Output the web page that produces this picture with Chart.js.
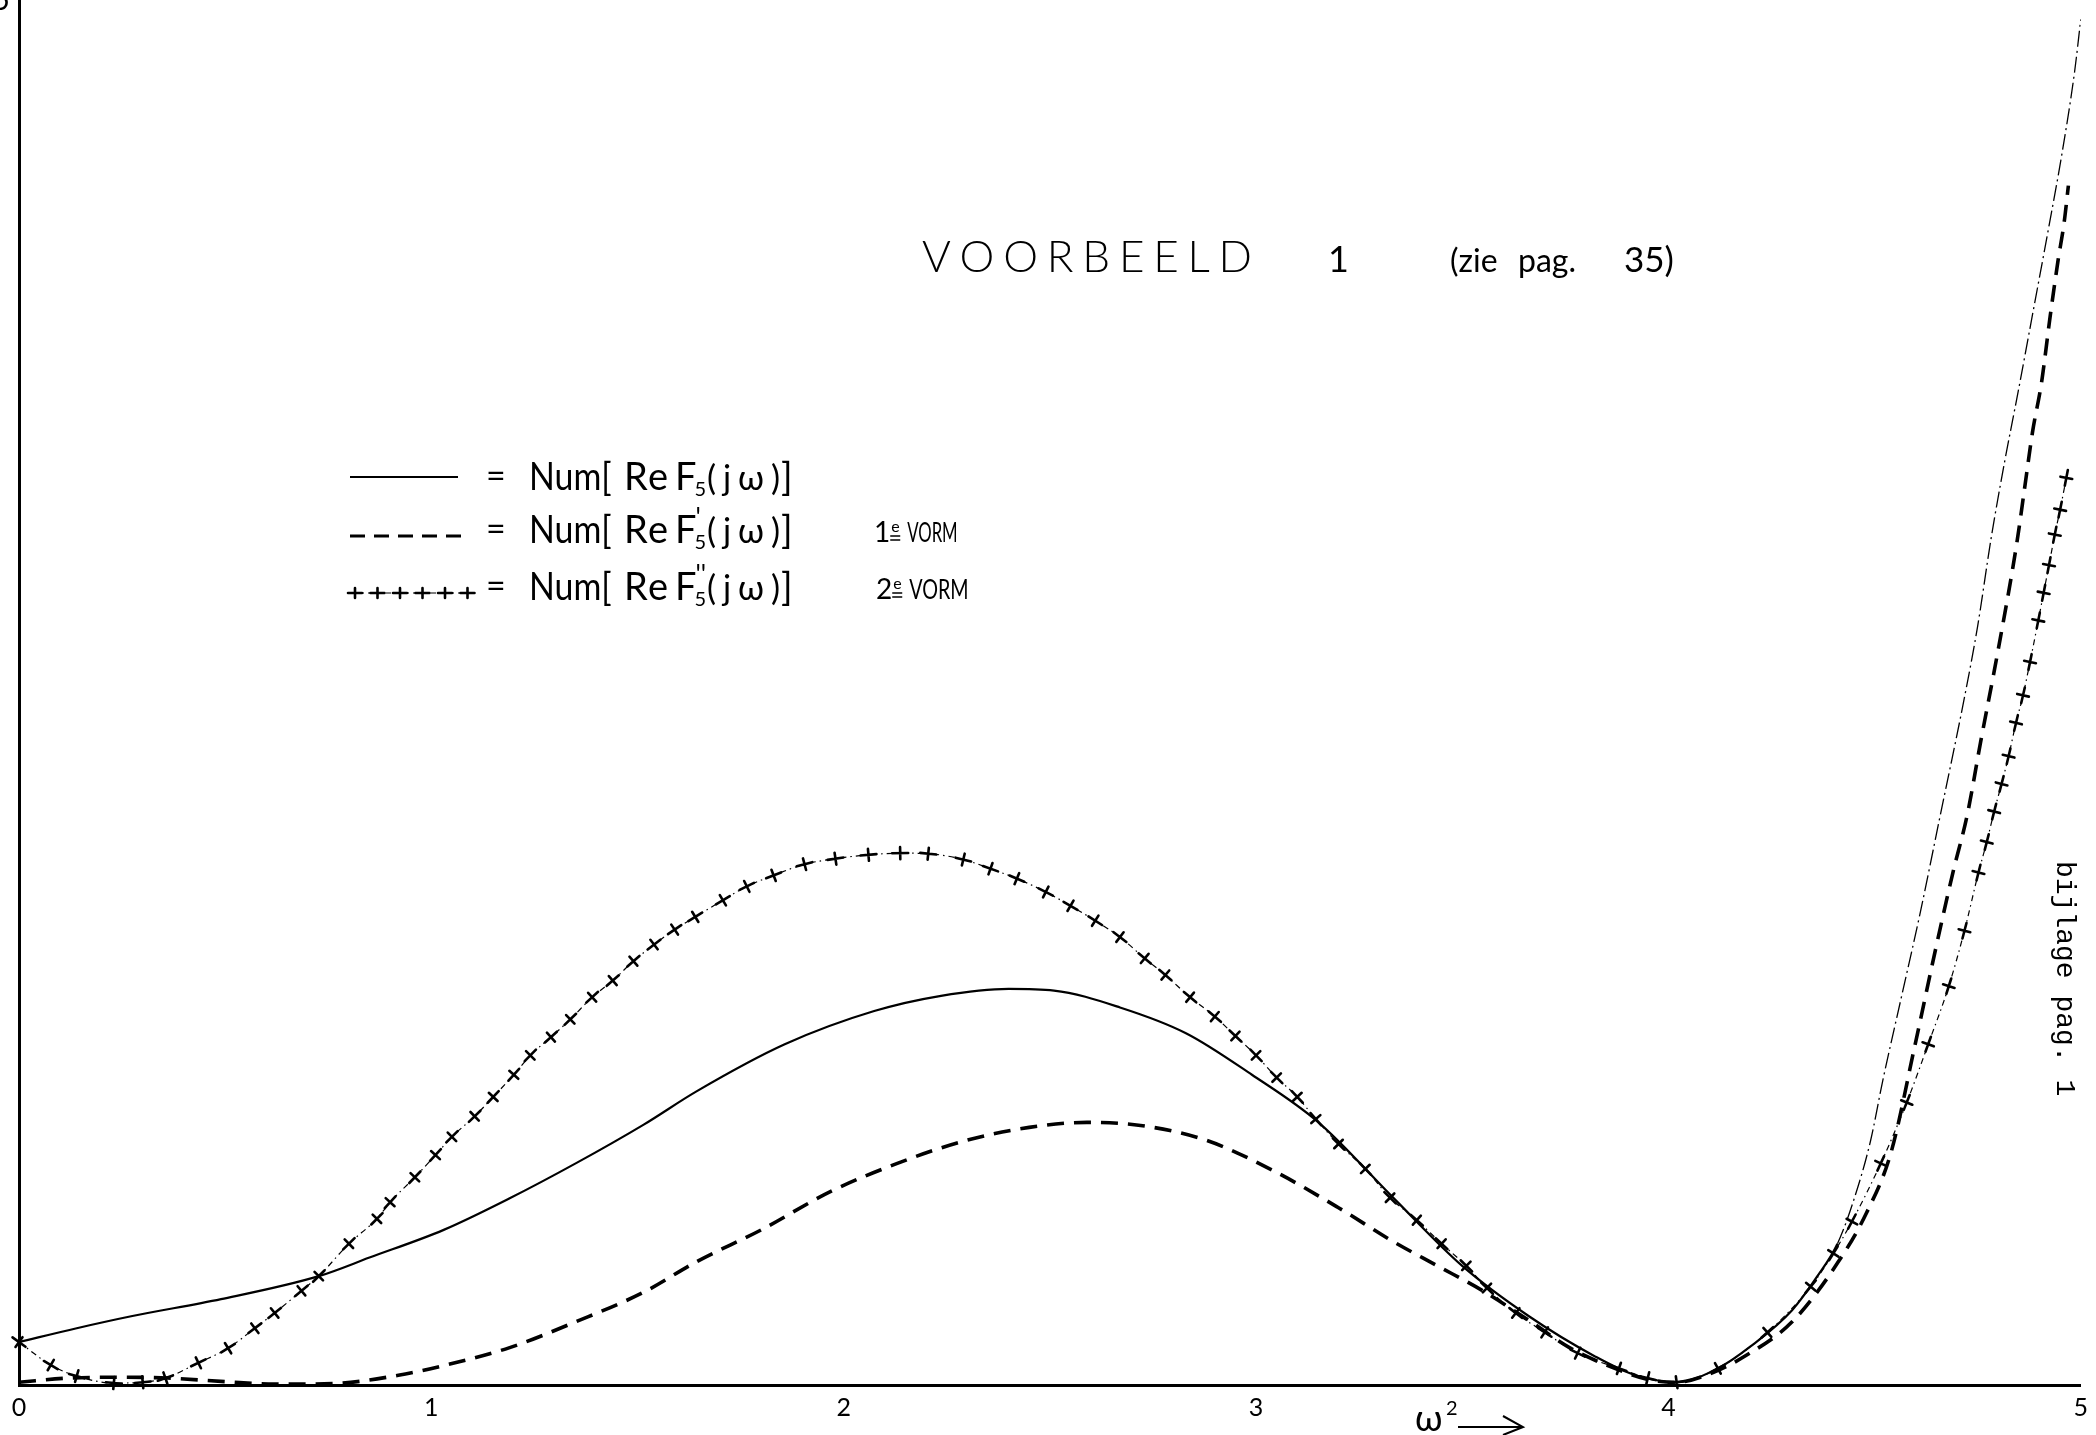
<!DOCTYPE html>
<html>
<head>
<meta charset="utf-8">
<title>Voorbeeld 1</title>
<script src="https://cdn.jsdelivr.net/npm/chart.js@4.4.1/dist/chart.umd.min.js"></script>
<style>
  html, body { margin: 0; padding: 0; background: #fff; }
  #wrap { position: relative; width: 2096px; height: 1435px; }
</style>
</head>
<body>
<div id="wrap"><canvas id="chart"></canvas></div>
<script>
// axis: w^2 from 0 to 5, y has no scale except the "5" at the very top
const xTicks = [0, 1, 2, 3, 4, 5];
const yMax = 5;

// Num[Re F5(jw)]  (solid)
const solidX = [0, 0.14, 0.275, 0.49, 0.727, 0.85, 1.03, 1.19, 1.35, 1.515, 1.643, 1.857, 2.074, 2.236, 2.40, 2.51,
  2.67, 2.83, 2.99, 3.15, 3.33, 3.50, 3.66, 3.82, 3.92, 4.02, 4.12, 4.20, 4.30, 4.36, 4.41, 4.45, 4.49, 4.52,
  4.565, 4.61, 4.657, 4.719, 4.75, 4.783, 4.815, 4.85, 4.885, 4.92, 4.955, 4.985, 5.0];
const solidY = [0.155, 0.205, 0.249, 0.31, 0.393, 0.46, 0.56, 0.674, 0.80, 0.94, 1.06, 1.23, 1.35, 1.405, 1.43, 1.424,
  1.363, 1.27, 1.12, 0.95, 0.68, 0.43, 0.25, 0.105, 0.035, 0.01, 0.06, 0.14, 0.27, 0.39, 0.51, 0.67, 0.88, 1.10,
  1.40, 1.70, 2.04, 2.49, 2.74, 3.06, 3.33, 3.60, 3.88, 4.16, 4.45, 4.74, 4.93];

// Num[Re F5'(jw)]  1e vorm (dashed)
const dashX = [0, 0.12, 0.25, 0.36, 0.5, 0.62, 0.76, 0.92, 1.03, 1.19, 1.35, 1.515, 1.643, 1.80, 1.97, 2.13, 2.29,
  2.45, 2.59, 2.72, 2.88, 3.04, 3.20, 3.33, 3.44, 3.55, 3.66, 3.76, 3.87, 3.95, 4.02, 4.10, 4.19, 4.30, 4.41,
  4.48, 4.54, 4.597, 4.649, 4.69, 4.725, 4.757, 4.798, 4.845, 4.865, 4.883, 4.905, 4.926, 4.945, 4.96, 4.97];
const dashY = [0.01, 0.025, 0.028, 0.025, 0.012, 0.003, 0.005, 0.035, 0.07, 0.135, 0.228, 0.335, 0.445, 0.56, 0.70,
  0.80, 0.88, 0.93, 0.948, 0.937, 0.883, 0.775, 0.64, 0.52, 0.43, 0.34, 0.235, 0.135, 0.06, 0.02, 0.01, 0.04,
  0.108, 0.228, 0.44, 0.62, 0.84, 1.22, 1.58, 1.85, 2.06, 2.32, 2.64, 3.04, 3.25, 3.44, 3.62, 3.86, 4.06, 4.2, 4.33];

// Num[Re F5''(jw)]  2e vorm (crosses)
const plusX = [0, 0.077, 0.14, 0.23, 0.30, 0.355, 0.435, 0.507, 0.572, 0.62, 0.685, 0.727, 0.80, 0.868, 0.90, 0.96,
  1.01, 1.05, 1.105, 1.15, 1.20, 1.24, 1.29, 1.337, 1.39, 1.44, 1.49, 1.54, 1.59, 1.64, 1.707, 1.765, 1.83,
  1.905, 1.98, 2.06, 2.137, 2.205, 2.29, 2.356, 2.42, 2.49, 2.55, 2.61, 2.67, 2.73, 2.78, 2.84, 2.90, 2.95,
  3.00, 3.05, 3.10, 3.145, 3.20, 3.265, 3.325, 3.39, 3.45, 3.51, 3.56, 3.63, 3.70, 3.78, 3.88, 3.95, 4.02,
  4.12, 4.24, 4.345, 4.40, 4.445, 4.515, 4.578, 4.63, 4.68, 4.718, 4.752, 4.772, 4.79, 4.808, 4.825, 4.843,
  4.86, 4.877, 4.897, 4.91, 4.923, 4.937, 4.95, 4.965];
const plusY = [0.155, 0.072, 0.032, 0.007, 0.01, 0.025, 0.08, 0.133, 0.205, 0.26, 0.34, 0.393, 0.51, 0.60, 0.66, 0.75,
  0.83, 0.896, 0.97, 1.04, 1.12, 1.19, 1.256, 1.32, 1.40, 1.46, 1.53, 1.59, 1.644, 1.69, 1.75, 1.80, 1.84,
  1.88, 1.90, 1.914, 1.92, 1.918, 1.897, 1.864, 1.828, 1.78, 1.73, 1.676, 1.617, 1.54, 1.48, 1.40, 1.33, 1.26,
  1.19, 1.11, 1.04, 0.96, 0.87, 0.78, 0.676, 0.595, 0.51, 0.43, 0.35, 0.26, 0.19, 0.115, 0.06, 0.025, 0.01,
  0.06, 0.19, 0.355, 0.475, 0.59, 0.80, 1.02, 1.23, 1.44, 1.64, 1.85, 1.96, 2.07, 2.17, 2.27, 2.39,
  2.49, 2.61, 2.76, 2.86, 2.96, 3.07, 3.16, 3.275];

// texts on the sheet
const titleWord = 'VOORBEELD';
const titleNumber = '1';
const titleRef = ['(zie', 'pag.', '35)'];
const legendPrimes = ['', '\'', '\'\''];
const legendForms = ['', '1', '2'];
const sideNote = 'bijlage pag. 1';

const toPoints = (xs, ys) => xs.map((x, i) => ({ x: x, y: ys[i] }));

// fits a word into [x0, x1]: letters spread out, or squeezed when too wide
function spread(c, text, x0, x1, y, font) {
  c.font = font;
  const chars = [...text];
  const widths = chars.map(ch => c.measureText(ch).width);
  const total = widths.reduce((a, b) => a + b, 0);
  const room = x1 - x0;
  if (total >= room) {
    c.save();
    c.translate(x0, y);
    c.scale(room / total, 1);
    c.fillText(text, 0, 0);
    c.restore();
    return x1;
  }
  const gap = chars.length > 1 ? (room - total) / (chars.length - 1) : 0;
  let x = x0;
  chars.forEach((ch, i) => {
    c.fillText(ch, x, y);
    x += widths[i] + gap;
  });
  return x1;
}

// a hand drawn cross: longer stroke along the curve, short bar across it
function crossMark(c, x, y, angle, along, across) {
  const ca = Math.cos(angle), sa = Math.sin(angle);
  c.beginPath();
  c.moveTo(x - ca * along, y - sa * along); c.lineTo(x + ca * along, y + sa * along);
  c.moveTo(x + sa * across, y - ca * across); c.lineTo(x - sa * across, y + ca * across);
  c.stroke();
}

// crosses of the 2e vorm, placed on the points Chart.js laid out
const crossMarks = {
  id: 'crossMarks',
  afterDatasetsDraw(chart) {
    const pts = chart.getDatasetMeta(2).data;
    const c = chart.ctx;
    c.save();
    c.strokeStyle = '#000';
    c.lineWidth = 2.6;
    c.lineCap = 'round';
    pts.forEach((p, i) => {
      const a = pts[Math.max(0, i - 1)], b = pts[Math.min(pts.length - 1, i + 1)];
      const ang = Math.atan2(b.y - a.y, b.x - a.x);
      crossMark(c, p.x, p.y, ang, 8, 6);
    });
    c.restore();
  }
};

const paperText = {
  id: 'paperText',
  afterDraw(chart) {
    const c = chart.ctx;
    c.save();
    c.fillStyle = '#000';
    c.strokeStyle = '#000';
    c.textBaseline = 'alphabetic';
    c.textAlign = 'left';

    // top of the y axis: only the lower half of the "5" is on the sheet
    c.font = '30px Lato';
    c.textAlign = 'right';
    c.fillText(String(yMax), 10, 10);
    c.textAlign = 'left';

    // title
    spread(c, titleWord, 922, 1252, 272, '300 44px Lato');
    c.font = '36px Lato';
    c.fillText(titleNumber, 1328, 272);
    c.font = '32px Lato';
    c.fillText(titleRef[0], 1450, 272);
    c.fillText(titleRef[1], 1518, 272);
    c.font = '35px Lato';
    c.fillText(titleRef[2], 1624, 272);

    // legend
    const rowY = [477, 536, 593];
    const rowBase = [490, 543, 600];
    rowY.forEach((yc, i) => {
      const base = rowBase[i];
      c.save();
      if (i === 0) {
        c.lineWidth = 2.2;
        c.beginPath(); c.moveTo(350, yc); c.lineTo(458, yc); c.stroke();
      } else if (i === 1) {
        c.lineWidth = 3.2;
        c.setLineDash([15, 9]);
        c.beginPath(); c.moveTo(350, yc); c.lineTo(461, yc); c.stroke();
      } else {
        c.lineWidth = 1.2;
        c.setLineDash([5, 4]);
        c.beginPath(); c.moveTo(350, yc); c.lineTo(466, yc); c.stroke();
        c.setLineDash([]);
        c.lineWidth = 2.6;
        c.lineCap = 'round';
        for (let k = 0; k < 6; k++) crossMark(c, 355 + k * 22.5, yc, 0, 7, 5);
      }
      c.restore();

      c.font = '34px Lato';
      c.fillText('=', 486, base - 2);
      spread(c, 'Num[', 529, 612, base, '38px Lato');
      spread(c, 'Re', 624, 668, base, '38px Lato');
      c.font = '38px Lato';
      c.fillText('F', 675, base);
      let x = 675 + c.measureText('F').width - 2;
      c.font = '20px Lato';
      c.fillText('5', x, base + 6);
      let w = c.measureText('5').width;
      if (legendPrimes[i]) {
        c.font = '26px Lato';
        c.fillText(legendPrimes[i], x + 1, base - 16);
        w = Math.max(w, c.measureText(legendPrimes[i]).width + 1);
      }
      x += w + 1;
      spread(c, '(jω)', x, 780, base, '34px Lato');
      c.font = '38px Lato';
      c.fillText(']', 781, base);

      if (legendForms[i]) {
        const fx = i === 1 ? 874 : 876;
        c.font = '28px Lato';
        c.fillText(legendForms[i], fx, base - 1);
        const ex = fx + c.measureText(legendForms[i]).width + 1;
        c.font = '16px Lato';
        c.fillText('e', ex, base - 11);
        c.lineWidth = 1.4;
        c.beginPath();
        c.moveTo(ex - 1, base - 7); c.lineTo(ex + 9, base - 7);
        c.moveTo(ex - 1, base - 3); c.lineTo(ex + 9, base - 3);
        c.stroke();
        spread(c, 'VORM', ex + 16, i === 1 ? 958 : 969, base - 1, '26px Lato');
      }
    });

    // axis label w^2 ->
    c.font = '36px Lato';
    c.fillText('ω', 1415, 1431);
    c.font = '20px Lato';
    c.fillText('2', 1446, 1415);
    c.lineWidth = 2;
    c.beginPath();
    c.moveTo(1458, 1427); c.lineTo(1522, 1427);
    c.moveTo(1503, 1416); c.lineTo(1523, 1427); c.lineTo(1503, 1435);
    c.stroke();

    // typed note in the right margin
    c.translate(2057, 861);
    c.rotate(Math.PI / 2);
    c.font = '28px "Liberation Mono", "DejaVu Sans Mono", monospace';
    c.fillText(sideNote, 0, 0);
    c.restore();
  }
};

new Chart(document.getElementById('chart'), {
  type: 'line',
  data: {
    datasets: [
      {
        label: 'Num[Re F5(jω)]',
        data: toPoints(solidX, solidY),
        borderColor: '#000',
        borderWidth: 2.2,
        pointRadius: 0,
        cubicInterpolationMode: 'monotone',
        segment: {
          borderDash: ctx => ctx.p0.parsed.x >= 4.41 ? [16, 4, 2, 4] : undefined,
          borderWidth: ctx => ctx.p0.parsed.x >= 4.41 ? 1.3 : undefined
        }
      },
      {
        label: 'Num[Re F5\'(jω)] 1e vorm',
        data: toPoints(dashX, dashY),
        borderColor: '#000',
        borderWidth: 3.6,
        borderDash: [17, 10],
        pointRadius: 0,
        cubicInterpolationMode: 'monotone'
      },
      {
        label: 'Num[Re F5\'\'(jω)] 2e vorm',
        data: toPoints(plusX, plusY),
        borderColor: '#000',
        borderWidth: 1.2,
        borderDash: [6, 4, 1.5, 4],
        cubicInterpolationMode: 'monotone',
        pointRadius: 0
      }
    ]
  },
  options: {
    responsive: true,
    maintainAspectRatio: false,
    devicePixelRatio: 1,
    animation: false,
    events: [],
    layout: { padding: { left: 19, right: 10, top: 0, bottom: 4 } },
    plugins: {
      legend: { display: false },
      tooltip: { enabled: false }
    },
    scales: {
      x: {
        type: 'linear',
        min: 0,
        max: 5,
        afterBuildTicks: axis => { axis.ticks = xTicks.map(v => ({ value: v })); },
        ticks: { font: { family: 'Lato', size: 25 }, color: '#000', padding: 8 },
        grid: { display: false, drawTicks: false },
        border: { display: true, color: '#000', width: 3 }
      },
      y: {
        type: 'linear',
        min: 0,
        max: yMax,
        ticks: { display: false },
        grid: { display: false, drawTicks: false },
        border: { display: true, color: '#000', width: 3 }
      }
    }
  },
  plugins: [crossMarks, paperText]
});
</script>
</body>
</html>
